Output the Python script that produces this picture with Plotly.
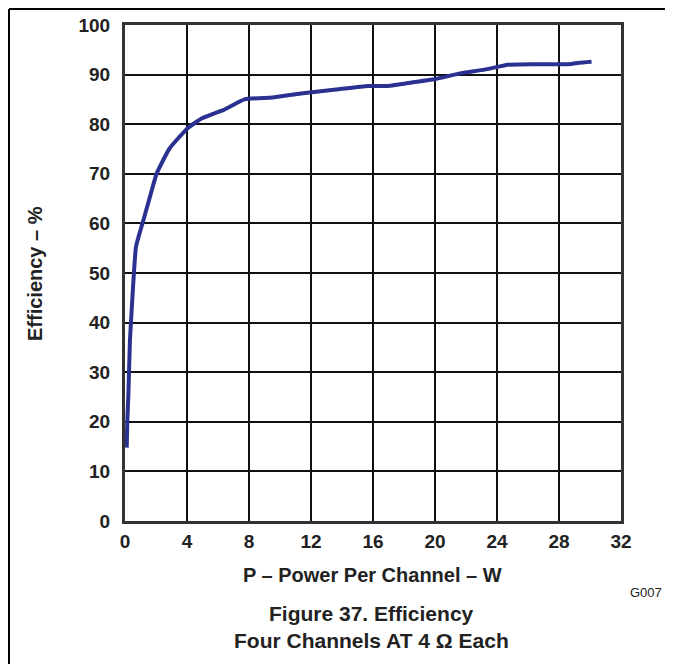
import plotly.graph_objects as go

power_w = [0.11, 0.15, 0.22, 0.32, 0.43, 0.71, 1.19, 1.55, 2.05, 2.87, 4.04, 4.97,
           6.37, 7.71, 9.5, 11.35, 13.9, 15.67, 16.96, 18.5, 20.0, 21.7, 23.2,
           24.7, 26.4, 28.6, 29.3, 30.1]
efficiency_pct = [14.8, 20.2, 25.7, 36.5, 42.5, 55.3, 60.7, 64.7, 70.1, 75.1, 79.2, 81.2,
                  82.9, 85.0, 85.4, 86.2, 87.1, 87.7, 87.7, 88.4, 89.1, 90.3, 91.0,
                  92.0, 92.1, 92.1, 92.4, 92.6]
x_ticks = [0, 4, 8, 12, 16, 20, 24, 28, 32]
y_ticks = [0, 10, 20, 30, 40, 50, 60, 70, 80, 90, 100]

FONT = "Liberation Sans, Arial, sans-serif"
OFF = 8  # page body margin
W, H = 657, 656
L, T = 125 - OFF, 25 - OFF
R = W - (621 - OFF)
B = H - (521 - OFF)
PW, PH = W - L - R, H - T - B

def px(x):
    return (x - OFF - L) / PW

def py(y):
    return (H - B - (y - OFF)) / PH

fig = go.Figure()
fig.add_trace(go.Scatter(
    x=power_w, y=efficiency_pct, mode="lines",
    line=dict(color="#2b3190", width=4, shape="spline", smoothing=0.4),
    showlegend=False, hoverinfo="skip"))

axis_common = dict(
    showline=True, linecolor="#333333", linewidth=3, mirror=True,
    showgrid=True, gridcolor="#111111", gridwidth=1.5,
    zeroline=False, ticks="",
    tickfont=dict(family=FONT, size=19, color="#222222", weight="bold"),
)
fig.update_xaxes(range=[0, 32], tickvals=x_ticks, ticktext=[str(v) for v in x_ticks],
                 ticklabelstandoff=1, **axis_common)
fig.update_yaxes(range=[0, 100], tickvals=y_ticks, ticktext=[str(v) for v in y_ticks],
                 ticklabelstandoff=8, **axis_common)

annots = [
    dict(text="P – Power Per Channel – W", x=px(372), y=py(575), size=20, bold=True),
    dict(text="Figure 37. Efficiency", x=px(371), y=py(613), size=21, bold=True),
    dict(text="Four Channels AT 4 Ω Each", x=px(371), y=py(640), size=21, bold=True),
    dict(text="G007", x=px(646), y=py(592), size=13, bold=False),
]
for a in annots:
    fig.add_annotation(
        text=a["text"], x=a["x"], y=a["y"], xref="paper", yref="paper",
        xanchor="center", yanchor="middle", showarrow=False,
        font=dict(family=FONT, size=a["size"], color="#222222",
                  weight="bold" if a["bold"] else "normal"))
fig.add_annotation(
    text="Efficiency – %", x=px(35), y=py(274), xref="paper", yref="paper",
    xanchor="center", yanchor="middle", showarrow=False, textangle=-90,
    font=dict(family=FONT, size=20, color="#222222", weight="bold"))

# outer figure frame (top and left edges)
fig.add_shape(type="line", xref="paper", yref="paper",
              x0=px(9), y0=py(9), x1=px(673), y1=py(9),
              line=dict(color="#000000", width=2))
fig.add_shape(type="line", xref="paper", yref="paper",
              x0=px(9), y0=py(9), x1=px(9), y1=py(672),
              line=dict(color="#000000", width=2))

fig.update_layout(
    width=W, height=H,
    margin=dict(l=L, r=R, t=T, b=B, autoexpand=False),
    paper_bgcolor="white", plot_bgcolor="white",
)
fig.write_html("out.html")
